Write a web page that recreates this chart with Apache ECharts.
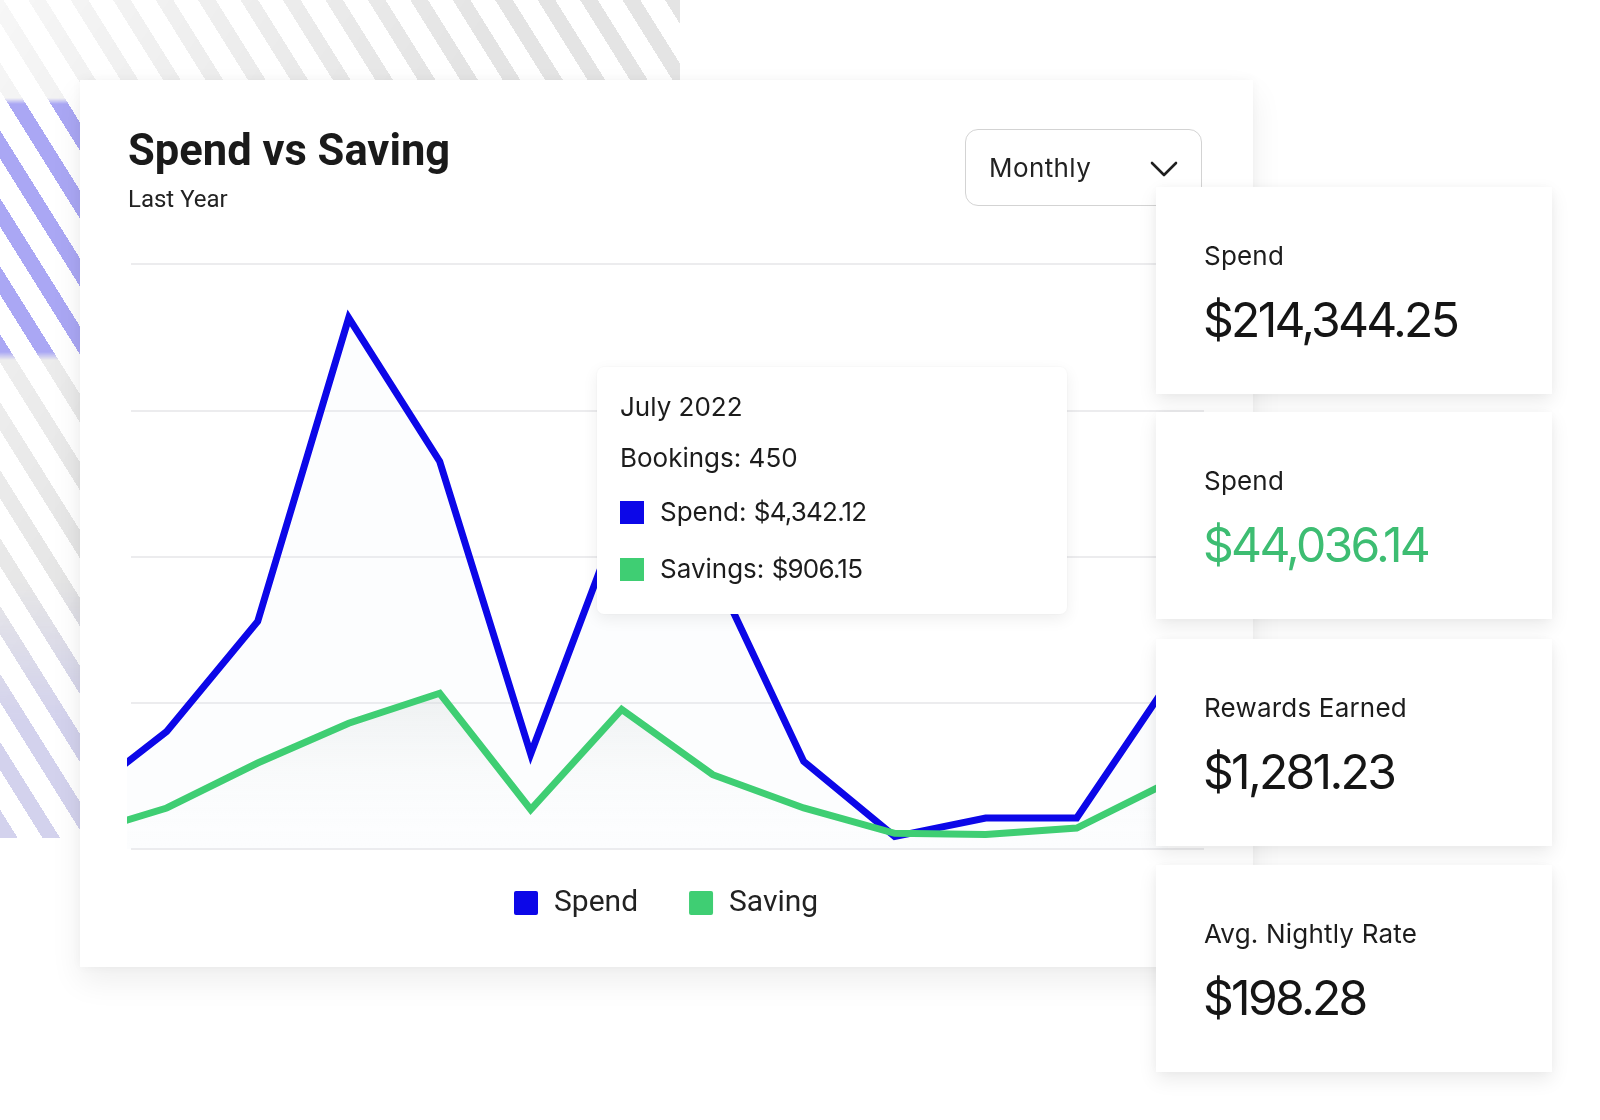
<!DOCTYPE html>
<html>
<head>
<meta charset="utf-8">
<script src="https://cdn.jsdelivr.net/npm/echarts@6/dist/echarts.min.js"></script>
<style>
html,body{margin:0;padding:0;width:1600px;height:1120px;background:#ffffff;overflow:hidden;font-family:Inter,Roboto,sans-serif;color:#1c1c1c;}
.abs{position:absolute;}
.stripe{left:0;top:0;width:680px;height:838px;}
#gray{background:repeating-linear-gradient(58deg,#e4e4e4 0 15px,rgba(255,255,255,0) 15px 36px);
  -webkit-mask-image:linear-gradient(125deg,rgba(0,0,0,0.3) 0%,#000 40%);mask-image:linear-gradient(125deg,rgba(0,0,0,0.3) 0%,#000 40%);}
#purple{background:repeating-linear-gradient(58deg,#aaa7f4 0 15px,rgba(255,255,255,0) 15px 36px);
  -webkit-mask-image:linear-gradient(to bottom,transparent 98px,#000 104px,#000 352px,transparent 360px);mask-image:linear-gradient(to bottom,transparent 98px,#000 104px,#000 352px,transparent 360px);}
#lav{background:repeating-linear-gradient(58deg,#c3c1f6 0 15px,rgba(255,255,255,0) 15px 36px);opacity:0.5;
  -webkit-mask-image:linear-gradient(to bottom,transparent 580px,#000 720px,#000 838px);mask-image:linear-gradient(to bottom,transparent 580px,#000 720px,#000 838px);}
#card{left:80px;top:80px;width:1173px;height:887px;background:#fff;box-shadow:0 14px 30px rgba(0,0,0,0.07),0 0 10px rgba(0,0,0,0.035);}
#chart{left:0;top:0;width:1600px;height:1120px;}
#dropdown{left:965px;top:129px;width:235px;height:75px;border:1.5px solid #d3d3d3;border-radius:13px;background:#fff;box-sizing:content-box;}
#dropdown span{position:absolute;left:23px;top:0;line-height:75px;font-size:26px;color:#222;font-family:Inter,sans-serif;letter-spacing:0.4px;}
#dropdown svg{position:absolute;left:184px;top:30px;}
#tip{left:597px;top:367px;width:470px;height:247px;background:#fff;border-radius:7px;box-shadow:0 5px 16px rgba(0,0,0,0.07),0 0 3px rgba(0,0,0,0.05);}
.tl{position:absolute;left:23px;font-size:26px;color:#1c1c1c;white-space:nowrap;line-height:30px;}
.sq{position:absolute;left:23px;width:24px;height:23px;}
.sc{left:1156px;width:396px;height:207px;background:#fff;box-shadow:0 8px 18px rgba(0,0,0,0.08),0 0 12px rgba(0,0,0,0.04);}
.sc .lb{position:absolute;left:48px;top:54px;font-size:26px;line-height:30px;color:#1c1c1c;white-space:nowrap;letter-spacing:0.2px;}
.sc .vl{position:absolute;left:47px;top:106px;font-size:48px;line-height:54px;color:#151515;letter-spacing:-2.7px;white-space:nowrap;}
</style>
</head>
<body>
<div id="gray" class="abs stripe"></div>
<div id="purple" class="abs stripe"></div>
<div id="lav" class="abs stripe"></div>
<div id="card" class="abs"></div>
<div id="chart" class="abs"></div>
<div id="dropdown" class="abs"><span>Monthly</span>
<svg width="30" height="18" viewBox="0 0 30 18"><polyline points="2,3 14,15 26,3" fill="none" stroke="#1f1f1f" stroke-width="2.6" stroke-linecap="round" stroke-linejoin="round"/></svg></div>
<div id="tip" class="abs"></div>
<div id="stats"></div>
<script>
// ---- data ----
const months = ['Jul 2021','Aug 2021','Sep 2021','Oct 2021','Nov 2021','Dec 2021','Jan 2022','Feb 2022','Mar 2022','Apr 2022','May 2022','Jun 2022','Jul 2022'];
const spend  = [636, 1608, 3112, 7262, 5300, 1300, 4600, 3840, 1198, 170, 424, 424, 2265];
const saving = [182, 561, 1176, 1720, 2130, 540, 1910, 1016, 561, 215, 200, 287, 909];
const seriesNames = ['Spend', 'Saving'];
const yTicks = [0, 2000, 4000, 6000, 8000];

const tipTitle = 'July 2022';
const tipBookings = 'Bookings: 450';
const tipRows = [['Spend:', '$4,342.12'], ['Savings:', '$906.15']];

const statLabels = ['Spend', 'Spend', 'Rewards Earned', 'Avg. Nightly Rate'];
const statValues = ['$214,344.25', '$44,036.14', '$1,281.23', '$198.28'];

const BLUE = '#0c07e8', GREEN = '#3fce73', GREEN_TXT = '#3dbd72';

// ---- chart ----
const chart = echarts.init(document.getElementById('chart'), null, {renderer: 'canvas'});
const toPairs = arr => arr.map((v, i) => [i, v]);
const sqIcon = 'path://M2,0H22Q24,0 24,2V22Q24,24 22,24H2Q0,24 0,22V2Q0,0 2,0Z';
const GRID_LEFT = 131, X0_PX = 75.7, STEP = 91;
chart.setOption({
  animation: false,
  backgroundColor: 'transparent',
  title: {
    text: 'Spend vs Saving',
    subtext: 'Last Year',
    left: 123, top: 124,
    itemGap: 8,
    textStyle: {fontFamily: 'Roboto', fontWeight: 'bold', fontSize: 43.5, color: '#1a1a1a', lineHeight: 50},
    subtextStyle: {fontFamily: 'Roboto', fontSize: 24, color: '#222', lineHeight: 28}
  },
  legend: {
    data: seriesNames.map((n, i) => ({name: n, icon: sqIcon, itemStyle: {color: i ? GREEN : BLUE}})),
    left: 509, top: 883,
    itemWidth: 24, itemHeight: 24, itemGap: 51,
    textStyle: {fontFamily: 'Roboto', fontSize: 30, color: '#222', padding: [0, 0, 0, 11]}
  },
  grid: {left: GRID_LEFT, top: 264, width: 1204 - GRID_LEFT, height: 585},
  xAxis: {type: 'value', min: (GRID_LEFT - X0_PX) / STEP, max: (1204 - X0_PX) / STEP, show: false},
  yAxis: {
    type: 'value', min: yTicks[0], max: yTicks[yTicks.length - 1], interval: 2000,
    axisLabel: {show: false}, axisLine: {show: false}, axisTick: {show: false},
    splitLine: {lineStyle: {color: '#e6e6e9', width: 1.6}}
  },
  series: [
    {
      name: seriesNames[0], type: 'line', data: toPairs(spend), showSymbol: false, symbol: 'none',
      lineStyle: {color: BLUE, width: 7, join: 'miter', miterLimit: 12}, itemStyle: {color: BLUE},
      areaStyle: {color: 'rgba(228,234,244,0.16)'}, z: 2
    },
    {
      name: seriesNames[1], type: 'line', data: toPairs(saving), showSymbol: false, symbol: 'none',
      lineStyle: {color: GREEN, width: 7, join: 'miter', miterLimit: 12}, itemStyle: {color: GREEN},
      areaStyle: {color: new echarts.graphic.LinearGradient(0, 0, 0, 1, [
        {offset: 0, color: 'rgba(205,212,212,0.45)'}, {offset: 1, color: 'rgba(255,255,255,0)'}])}, z: 3
    }
  ]
});

// ---- tooltip box ----
const tip = document.getElementById('tip');
let h = '<div class="tl" style="top:25px">' + tipTitle + '</div>';
h += '<div class="tl" style="top:76px">' + tipBookings + '</div>';
tipRows.forEach((r, i) => {
  const cy = 145 + i * 57;
  h += '<div class="sq" style="top:' + (cy - 11) + 'px;background:' + (i ? GREEN : BLUE) + '"></div>';
  h += '<div class="tl" style="left:63px;top:' + (cy - 15) + 'px">' + r[0] + ' <span style="letter-spacing:-0.8px">' + r[1] + '</span></div>';
});
tip.innerHTML = h;

// ---- stat cards ----
const tops = [187, 412, 639, 865];
let s = '';
statLabels.forEach((lb, i) => {
  s += '<div class="abs sc" style="top:' + tops[i] + 'px"><div class="lb">' + lb + '</div>' +
       '<div class="vl" style="color:' + (i === 1 ? GREEN_TXT : '#151515') + '">' + statValues[i] + '</div></div>';
});
document.getElementById('stats').innerHTML = s;
</script>
</body>
</html>
